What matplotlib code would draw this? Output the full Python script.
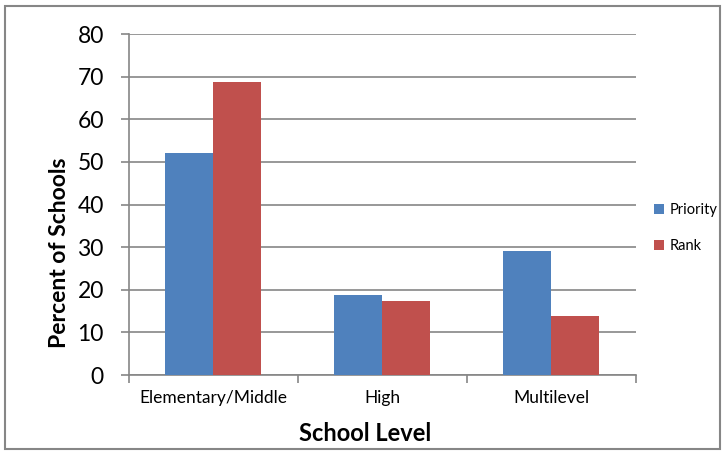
import matplotlib
matplotlib.use("Agg")
import matplotlib.pyplot as plt
from matplotlib.patches import Rectangle
import numpy as np

plt.rcParams['font.family'] = ['Lato', 'DejaVu Sans']

categories = ["Elementary/Middle", "High", "Multilevel"]
priority = [52, 18.8, 29]
rank = [68.7, 17.3, 13.9]
series_names = ["Priority", "Rank"]
y_ticks = [0, 10, 20, 30, 40, 50, 60, 70, 80]

blue = "#4F81BD"
red = "#C0504D"
grid_gray = "#868686"

fig = plt.figure(figsize=(7.24, 4.51), dpi=100)
ax = fig.add_axes([0.178, 0.1685, 0.700, 0.756])

x = np.arange(len(categories))
w = 0.284
ax.bar(x - w / 2, priority, w, color=blue, label=series_names[0], zorder=3)
ax.bar(x + w / 2, rank, w, color=red, label=series_names[1], zorder=3)

ax.set_xlim(-0.5, len(categories) - 0.5)
ax.set_ylim(0, 80)
ax.set_yticks(y_ticks)
ax.yaxis.grid(True, color=grid_gray, linewidth=1.2, zorder=0)
ax.set_axisbelow(True)

for side in ["top", "right"]:
    ax.spines[side].set_visible(False)
for side in ["left", "bottom"]:
    ax.spines[side].set_color(grid_gray)
    ax.spines[side].set_linewidth(1.2)

# category labels centred, tick marks between groups
ax.set_xticks(x)
ax.set_xticklabels(categories, fontsize=12.5)
ax.tick_params(axis="x", length=0, pad=11)
ax.set_xticks(np.arange(-0.5, len(categories)), minor=True)
ax.tick_params(axis="x", which="minor", length=6, color=grid_gray, width=1.2)
ax.tick_params(axis="y", length=6, color=grid_gray, width=1.2, labelsize=16.5, pad=12)

ax.set_ylabel("Percent of Schools", fontsize=16.5, fontweight="bold")
ax.yaxis.set_label_coords(-0.116, 0.36)
ax.set_xlabel("School Level", fontsize=17, fontweight="bold")
ax.xaxis.set_label_coords(0.466, -0.138)

ax.legend(loc="center left", bbox_to_anchor=(1.01, 0.43), frameon=False,
          fontsize=10.5, handlelength=0.7, handleheight=0.7, labelspacing=1.5,
          handletextpad=0.4)

fig.patches.append(Rectangle((0.007, 0.005), 0.988, 0.982, transform=fig.transFigure,
                             fill=False, edgecolor=grid_gray, linewidth=1.5))

fig.savefig("out.png", dpi=100)
